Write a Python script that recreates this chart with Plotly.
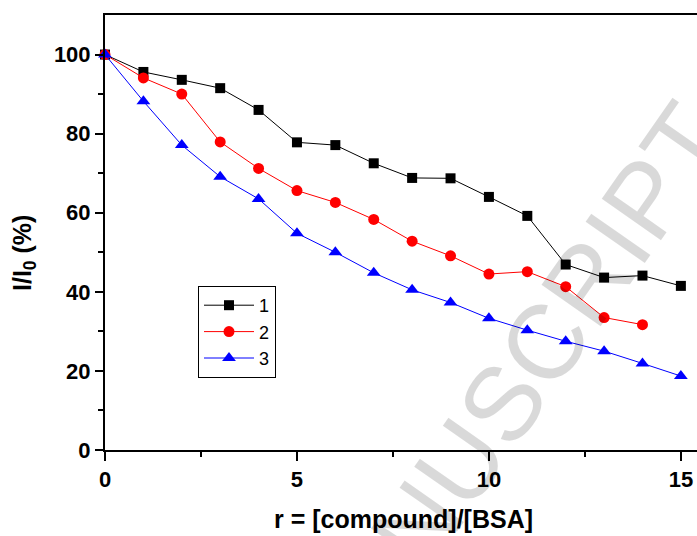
import plotly.graph_objects as go

r = list(range(16))
s1 = [100, 95.6, 93.6, 91.5, 86.0, 77.8, 77.1, 72.5, 68.8, 68.7, 64.0, 59.2, 46.9, 43.6, 44.1, 41.5]
s2 = [100, 94.1, 90.0, 77.9, 71.2, 65.6, 62.6, 58.3, 52.8, 49.1, 44.5, 45.1, 41.3, 33.5, 31.7]
s3 = [100, 88.2, 77.1, 69.1, 63.5, 54.8, 50.0, 44.8, 40.5, 37.3, 33.3, 30.3, 27.5, 25.0, 21.9, 18.7]
names = ["1", "2", "3"]
xticks = [0, 5, 10, 15]
yticks = [0, 20, 40, 60, 80, 100]

FONT = "Liberation Sans, Arial, sans-serif"

fig = go.Figure()
fig.add_trace(go.Scatter(x=r[:len(s1)], y=s1, name=names[0], mode="lines+markers",
                         line=dict(color="black", width=1),
                         marker=dict(symbol="square", size=10, color="black"),
                         cliponaxis=False))
fig.add_trace(go.Scatter(x=r[:len(s2)], y=s2, name=names[1], mode="lines+markers",
                         line=dict(color="red", width=1),
                         marker=dict(symbol="circle", size=11, color="red"),
                         cliponaxis=False))
fig.add_trace(go.Scatter(x=r[:len(s3)], y=s3, name=names[2], mode="lines+markers",
                         line=dict(color="blue", width=1),
                         marker=dict(symbol="triangle-up", size=12, color="blue"),
                         cliponaxis=False))

L, T, B = 105, 15, 450
W, H = 697, 536
pw = W - L
ph = B - T

def px(xp):
    return (xp - L) / pw

def py(yp):
    return (B - yp) / ph

fig.update_layout(
    width=W, height=H,
    margin=dict(l=L, r=0, t=T, b=H - B, autoexpand=False),
    paper_bgcolor="white", plot_bgcolor="white",
    font=dict(family=FONT, color="black"),
    showlegend=True,
    legend=dict(x=px(198), y=py(286), xanchor="left", yanchor="top",
                bordercolor="black", borderwidth=1, bgcolor="white",
                font=dict(size=18, family=FONT),
                itemwidth=50,
                tracegroupgap=0),
    annotations=[
        dict(text="ACCEPTED MANUSCRIPT", x=px(331), y=py(647),
             xref="paper", yref="paper", showarrow=False,
             textangle=-55, xanchor="center", yanchor="middle",
             font=dict(size=105, family=FONT, color="rgba(0,0,0,0.15)")),
        dict(text="<b>r = [compound]/[BSA]</b>", x=px(403), y=py(519),
             xref="paper", yref="paper", showarrow=False,
             xanchor="center", yanchor="middle",
             font=dict(size=25, family=FONT, color="black")),
        dict(text="<b>I/I<sub>0</sub> (%)</b>", x=px(24), y=py(253),
             xref="paper", yref="paper", showarrow=False, textangle=-90,
             xanchor="center", yanchor="middle",
             font=dict(size=25, family=FONT, color="black")),
    ],
)

fig.update_xaxes(
    range=[0, 15.42], showgrid=False, zeroline=False,
    showline=True, linecolor="black", linewidth=2, mirror=True,
    ticks="outside", ticklen=9, tickwidth=2, tickcolor="black",
    tickvals=xticks, ticktext=[f"<b>{v}</b>" for v in xticks],
    tickfont=dict(size=22, family=FONT),
    minor=dict(tickvals=[2.5, 7.5, 12.5], ticks="outside", ticklen=5, tickwidth=2, tickcolor="black"),
)
fig.update_yaxes(
    range=[0, 110], showgrid=False, zeroline=False,
    showline=True, linecolor="black", linewidth=2, mirror=False,
    ticks="outside", ticklen=8, tickwidth=2, tickcolor="black",
    tickvals=yticks, ticktext=[f"<b>{v}</b>" for v in yticks],
    tickfont=dict(size=22, family=FONT),
    minor=dict(tickvals=[10, 30, 50, 70, 90], ticks="outside", ticklen=5, tickwidth=2, tickcolor="black"),
)

fig.write_html("out.html", config={"displayModeBar": False},
               post_script="document.body.style.margin='0';")
